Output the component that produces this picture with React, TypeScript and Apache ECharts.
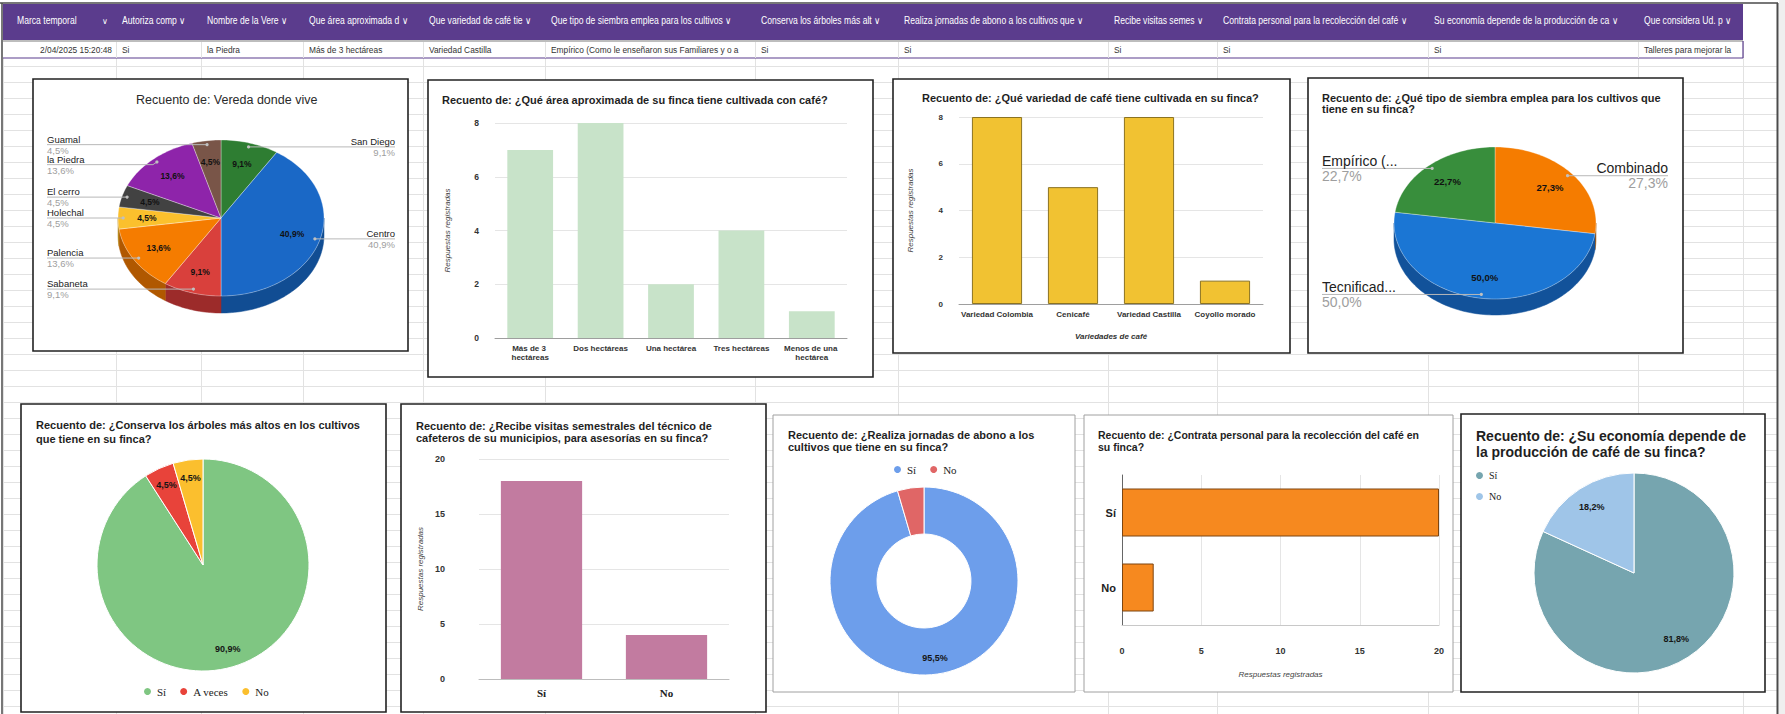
import React, { useEffect, useRef } from 'react';
import * as echarts from 'echarts';

// ---------- spreadsheet header ----------
const columnEdges = [3, 116, 201, 303, 423, 545, 755, 898, 1108, 1217, 1428, 1638, 1743];
const headerLabels = [
  'Marca temporal',
  'Autoriza comp',
  'Nombre de la Vere',
  'Que área aproximada d',
  'Que variedad de café tie',
  'Que tipo de siembra emplea para los cultivos',
  'Conserva los árboles más alt',
  'Realiza jornadas de abono a los cultivos que',
  'Recibe visitas semes',
  'Contrata personal para la recolección del café',
  'Su economía depende de la producción de ca',
  'Que considera Ud. p',
];
const firstRowValues = [
  '2/04/2025 15:20:48',
  'Si',
  'la Piedra',
  'Más de 3 hectáreas',
  'Variedad Castilla',
  'Empírico (Como le enseñaron sus Familiares y o a',
  'Si',
  'Si',
  'Si',
  'Si',
  'Si',
  'Talleres para mejorar la',
];

// ---------- chart data ----------
const veredaNames = ['San Diego', 'Centro', 'Sabaneta', 'Palencia', 'Holechal', 'El cerro', 'la Piedra', 'Guamal'];
const veredaCounts = [2, 9, 2, 3, 1, 1, 3, 1];
const veredaTop = ['#2e7d32', '#1a68c6', '#d9403c', '#f57c00', '#fbc02d', '#424242', '#8e24aa', '#795548'];
const veredaSide = ['#1f5a23', '#114d93', '#9c2b2a', '#b05800', '#b8891e', '#2a2a2a', '#641a7a', '#553b32'];

const areaCats = ['Más de 3 hectáreas', 'Dos hectáreas', 'Una hectárea', 'Tres hectáreas', 'Menos de una hectárea'];
const areaCounts = [7, 8, 2, 4, 1];

const variedadCats = ['Variedad Colombia', 'Cenicafé', 'Variedad Castilla', 'Coyollo morado'];
const variedadCounts = [8, 5, 8, 1];

const siembraNames = ['Combinado', 'Tecnificad...', 'Empírico (...'];
const siembraCounts = [6, 11, 5];
const siembraTop = ['#f57c00', '#1b76d4', '#388e3c'];
const siembraSide = ['#b25a00', '#12529a', '#275f2a'];

const conservaNames = ['Sí', 'A veces', 'No'];
const conservaCounts = [20, 1, 1];
const conservaColors = ['#7fc682', '#e8433a', '#fbbf2e'];

const visitasNames = ['Sí', 'No'];
const visitasCounts = [18, 4];

const abonoNames = ['Sí', 'No'];
const abonoCounts = [21, 1];
const abonoColors = ['#6d9eeb', '#e06666'];

const contrataNames = ['Sí', 'No'];
const contrataCounts = [20, 2];

const economiaNames = ['Sí', 'No'];
const economiaCounts = [18, 4];
const economiaColors = ['#76a5af', '#9fc5e8'];

const FONT = 'Liberation Sans';
const SERIF = 'Liberation Serif';

function sum(a: number[]) {
  return a.reduce((s, v) => s + v, 0);
}
function fmtPct(v: number, total: number) {
  return (v / total * 100).toFixed(1).replace('.', ',') + '%';
}

type P3 = {
  cx: number; cy: number; rx: number; ry: number; depth: number;
  leftX: number; rightX: number; nameSize: number; innerSize: number;
};

function arcPts(c: P3, a0: number, a1: number, dy: number) {
  const pts: number[][] = [];
  const n = Math.max(2, Math.ceil((a1 - a0) / 1.5) + 1);
  for (let k = 0; k < n; k++) {
    const a = (a0 + (a1 - a0) * k / (n - 1)) * Math.PI / 180;
    pts.push([c.cx + c.rx * Math.sin(a), c.cy - c.ry * Math.cos(a) + dy]);
  }
  return pts;
}

function pie3D(name: string, names: string[], values: number[], tops: string[], sides: string[], c: P3): any {
  const total = sum(values);
  // slice geometry and outside-label placement (labels pushed apart if they collide)
  let acc = 0;
  const geo = values.map((v) => {
    const a0 = acc / total * 360;
    acc += v;
    const a1 = acc / total * 360;
    const mid = (a0 + a1) / 2 * Math.PI / 180;
    const s = Math.sin(mid);
    const co = Math.cos(mid);
    return {
      a0, a1, s, co,
      dx: c.cx + 0.95 * c.rx * s,
      dy: c.cy - 0.95 * c.ry * co,
      left: s < 0,
      ly: 0,
    };
  });
  const blockH = 2 * c.nameSize + 1;
  [true, false].forEach((side) => {
    const idx = geo.map((_, i) => i).filter((i) => geo[i].left === side).sort((a, b) => geo[a].dy - geo[b].dy);
    let prev = -1e9;
    idx.forEach((i) => {
      const y = Math.max(geo[i].dy, prev + blockH);
      geo[i].ly = y;
      prev = y;
    });
  });
  return {
    type: 'custom',
    name,
    coordinateSystem: 'none',
    silent: true,
    z: 3,
    data: values.map((v, i) => ({ name: names[i], value: v })),
    renderItem: (params: any, api: any) => {
      const i = params.dataIndex;
      const v = api.value(0);
      const g = geo[i];
      const children: any[] = [];
      const b0 = Math.max(g.a0, 90);
      const b1 = Math.min(g.a1, 270);
      if (b1 > b0) {
        const top = arcPts(c, b0, b1, 0);
        const bot = arcPts(c, b0, b1, c.depth).reverse();
        children.push({
          type: 'polygon', z2: 1,
          shape: { points: top.concat(bot) },
          style: { fill: sides[i], stroke: sides[i], lineWidth: 0.5 },
        });
      }
      children.push({
        type: 'polygon', z2: 2,
        shape: { points: [[c.cx, c.cy]].concat(arcPts(c, g.a0, g.a1, 0)) },
        style: { fill: tops[i], stroke: 'rgba(255,255,255,0.55)', lineWidth: 0.6 },
      });
      const pct = fmtPct(v, total);
      children.push({
        type: 'text', z2: 6,
        style: {
          text: pct, x: c.cx + 0.72 * c.rx * g.s, y: c.cy - 0.72 * c.ry * g.co,
          align: 'center', verticalAlign: 'middle', fontSize: c.innerSize,
          fontWeight: 'bold', fill: '#111', fontFamily: FONT,
        },
      });
      const lx = g.left ? c.leftX : c.rightX;
      const pts = Math.abs(g.ly - g.dy) < 0.5
        ? [[g.dx, g.dy], [lx, g.ly]]
        : [[g.dx, g.dy], [g.dx + (g.left ? -4 : 4), g.ly], [lx, g.ly]];
      children.push({
        type: 'polyline', z2: 5,
        shape: { points: pts },
        style: { stroke: '#b8b8b8', lineWidth: 1, fill: 'none' },
      });
      children.push({ type: 'circle', z2: 6, shape: { cx: g.dx, cy: g.dy, r: 1.6 }, style: { fill: '#c0c0c0' } });
      children.push({
        type: 'text', z2: 6,
        style: {
          text: names[i], x: lx, y: g.ly - 0.5, align: g.left ? 'left' : 'right', verticalAlign: 'bottom',
          fontSize: c.nameSize, fill: '#222', fontFamily: FONT,
        },
      });
      children.push({
        type: 'text', z2: 6,
        style: {
          text: pct, x: lx, y: g.ly + 0.5, align: g.left ? 'left' : 'right', verticalAlign: 'top',
          fontSize: c.nameSize, fill: '#9e9e9e', fontFamily: FONT,
        },
      });
      return { type: 'group', children };
    },
  };
}

function pie2D(name: string, names: string[], values: number[], colors: string[], center: number[], radius: number[], labelRadius: number[], hideLabel: boolean[]): any[] {
  const total = sum(values);
  return [
    {
      type: 'pie', name, center, radius, startAngle: 90, clockwise: true, silent: true,
      avoidLabelOverlap: false, label: { show: false }, labelLine: { show: false },
      itemStyle: { borderColor: '#ffffff', borderWidth: 1 },
      data: names.map((n, i) => ({ name: n, value: values[i], itemStyle: { color: colors[i] } })),
      z: 3,
    },
    {
      type: 'pie', name: name + '-labels', center, radius: labelRadius, startAngle: 90, clockwise: true,
      silent: true, avoidLabelOverlap: false, labelLine: { show: false },
      itemStyle: { color: 'rgba(0,0,0,0)', borderWidth: 0 },
      label: {
        show: true, position: 'inside', fontSize: 9, fontWeight: 'bold', color: '#151515', fontFamily: FONT,
        formatter: (p: any) => fmtPct(p.value, total),
      },
      data: names.map((n, i) => ({ name: n, value: values[i], label: { show: !hideLabel[i] } })),
      z: 4,
    },
  ];
}

function buildGraphic() {
  const els: any[] = [];
  const Z = -10;
  els.push({ type: 'rect', z: Z, shape: { x: 0, y: 0, width: 1785, height: 714 }, style: { fill: '#ffffff' } });
  for (let y = 66; y < 714; y += 16) {
    els.push({ type: 'line', z: Z, shape: { x1: 3, y1: y + 0.5, x2: 1777, y2: y + 0.5 }, style: { stroke: '#e2e2e2', lineWidth: 1 } });
  }
  columnEdges.forEach((x) => {
    els.push({ type: 'line', z: Z, shape: { x1: x + 0.5, y1: 41, x2: x + 0.5, y2: 714 }, style: { stroke: '#e2e2e2', lineWidth: 1 } });
  });
  // header band
  els.push({ type: 'rect', z: Z, shape: { x: 3, y: 4, width: 1740, height: 36 }, style: { fill: '#5b3c8d' } });
  els.push({ type: 'rect', z: Z, shape: { x: 3, y: 41, width: 1740, height: 17 }, style: { fill: '#ffffff' } });
  els.push({ type: 'line', z: Z, shape: { x1: 3, y1: 41, x2: 1743, y2: 41 }, style: { stroke: '#bdbdbd', lineWidth: 2 } });
  els.push({ type: 'line', z: Z, shape: { x1: 3, y1: 58, x2: 1743, y2: 58 }, style: { stroke: '#5b3c8d', lineWidth: 1.2 } });
  els.push({ type: 'line', z: Z, shape: { x1: 1743, y1: 41, x2: 1743, y2: 58 }, style: { stroke: '#5b3c8d', lineWidth: 1.2 } });
  for (let i = 1; i < columnEdges.length - 1; i++) {
    els.push({ type: 'line', z: Z, shape: { x1: columnEdges[i] + 0.5, y1: 42, x2: columnEdges[i] + 0.5, y2: 58 }, style: { stroke: '#e2e2e2', lineWidth: 1 } });
  }
  const sx = 0.86;
  headerLabels.forEach((lab, i) => {
    const x0 = columnEdges[i];
    const x1 = columnEdges[i + 1];
    if (i === 0) {
      els.push({ type: 'text', z: Z, x: x0 + 14, y: 21, scaleX: sx, style: { text: lab, fill: '#ffffff', fontSize: 10, fontFamily: FONT, verticalAlign: 'middle', align: 'left' } });
      els.push({ type: 'text', z: Z, x: 102, y: 21, style: { text: '∨', fill: '#ffffff', fontSize: 8, fontFamily: 'DejaVu Sans', verticalAlign: 'middle', align: 'left' } });
    } else {
      els.push({
        type: 'text', z: Z, x: x0 + 6, y: 21, scaleX: sx,
        style: { text: lab + ' ∨', fill: '#ffffff', fontSize: 10, fontFamily: FONT, verticalAlign: 'middle', align: 'left', width: (x1 - x0 - 8) / sx, overflow: 'truncate', ellipsis: '' },
      });
    }
  });
  const rx = 0.88;
  firstRowValues.forEach((val, i) => {
    const x0 = columnEdges[i];
    const x1 = columnEdges[i + 1];
    if (i === 0) {
      els.push({ type: 'text', z: Z, x: x1 - 4, y: 50, scaleX: rx, style: { text: val, fill: '#333', fontSize: 9.5, fontFamily: FONT, verticalAlign: 'middle', align: 'right' } });
    } else {
      els.push({
        type: 'text', z: Z, x: x0 + 6, y: 50, scaleX: rx,
        style: { text: val, fill: '#333', fontSize: 9.5, fontFamily: FONT, verticalAlign: 'middle', align: 'left', width: (x1 - x0 - 7) / rx, overflow: 'truncate', ellipsis: '' },
      });
    }
  });
  // window frame
  els.push({ type: 'rect', z: Z, shape: { x: 1779, y: 0, width: 6, height: 714 }, style: { fill: '#efefef' } });
  els.push({ type: 'line', z: Z, shape: { x1: 0, y1: 3, x2: 1778, y2: 3 }, style: { stroke: '#4a4a4a', lineWidth: 1.5 } });
  els.push({ type: 'line', z: Z, shape: { x1: 2, y1: 3, x2: 2, y2: 714 }, style: { stroke: '#4a4a4a', lineWidth: 1.5 } });
  els.push({ type: 'line', z: Z, shape: { x1: 1777.5, y1: 3, x2: 1777.5, y2: 714 }, style: { stroke: '#4a4a4a', lineWidth: 2 } });
  // chart boxes
  const frames: any[] = [
    [33, 79, 375, 272, '#222', 1.6],
    [428, 80, 445, 297, '#222', 1.6],
    [893, 79, 397, 274, '#222', 1.6],
    [1308, 78, 375, 275, '#222', 1.6],
    [21, 404, 365, 308, '#222', 1.6],
    [401, 404, 365, 308, '#222', 1.6],
    [773, 415, 302, 277, '#a0a0a0', 1],
    [1084, 415, 369, 277, '#a0a0a0', 1],
    [1461, 414, 304, 278, '#222', 1.6],
  ];
  frames.forEach((f) => {
    els.push({ type: 'rect', z: Z, shape: { x: f[0], y: f[1], width: f[2], height: f[3] }, style: { fill: '#ffffff', stroke: f[4], lineWidth: f[5] } });
  });
  return els;
}

function T(text: string, left: number, top: number, extra: any = {}) {
  return {
    text, left, top, padding: 0,
    textStyle: { fontSize: 11, fontWeight: 'bold', color: '#1f1f1f', fontFamily: FONT, lineHeight: 12, ...extra },
  };
}

const axisNameStyle = { fontSize: 8, fontStyle: 'italic', color: '#444', fontFamily: FONT };
const tickStyle = { fontSize: 8.5, fontWeight: 'bold', color: '#333', fontFamily: FONT };
const splitStyle = { lineStyle: { color: '#e5e5e5', width: 1 } };

function buildOption(): any {
  return {
    animation: false,
    backgroundColor: '#ffffff',
    textStyle: { fontFamily: FONT },
    graphic: { elements: buildGraphic() },
    title: [
      T('Recuento de: Vereda donde vive', 136, 93, { fontWeight: 'normal', fontSize: 12.5, color: '#2a2a2a', lineHeight: 14 }),
      T('Recuento de: ¿Qué área aproximada de su finca tiene cultivada con café?', 442, 94),
      T('Recuento de: ¿Qué variedad de café tiene cultivada en su finca?', 922, 92),
      T('Recuento de: ¿Qué tipo de siembra emplea para los cultivos que\ntiene en su finca?', 1322, 92, { lineHeight: 11 }),
      T('Recuento de: ¿Conserva los árboles más altos en los cultivos\nque tiene en su finca?', 36, 418, { lineHeight: 14 }),
      T('Recuento de: ¿Recibe visitas semestrales del técnico de\ncafeteros de su municipios, para asesorías en su finca?', 416, 420),
      T('Recuento de: ¿Realiza jornadas de abono a los\ncultivos que tiene en su finca?', 788, 429),
      T('Recuento de: ¿Contrata personal para la recolección del café en\nsu finca?', 1098, 429, { fontSize: 10.5 }),
      T('Recuento de: ¿Su economía depende de\nla producción de café de su finca?', 1476, 428, { fontSize: 14, lineHeight: 16 }),
    ],
    legend: [
      {
        left: 142, top: 686, padding: 0, icon: 'circle', itemWidth: 9, itemHeight: 9, itemGap: 12, selectedMode: false,
        textStyle: { fontFamily: SERIF, fontSize: 11, color: '#222' },
        data: conservaNames.map((n, i) => ({ name: n, itemStyle: { color: conservaColors[i] } })),
      },
      {
        left: 892, top: 464, padding: 0, icon: 'circle', itemWidth: 9, itemHeight: 9, itemGap: 12, selectedMode: false,
        textStyle: { fontFamily: SERIF, fontSize: 11, color: '#222' },
        data: abonoNames.map((n, i) => ({ name: n, itemStyle: { color: abonoColors[i] } })),
      },
      {
        left: 1474, top: 470, padding: 0, orient: 'vertical', icon: 'circle', itemWidth: 9, itemHeight: 9, itemGap: 10, selectedMode: false,
        textStyle: { fontFamily: SERIF, fontSize: 10, color: '#222' },
        data: economiaNames.map((n, i) => ({ name: n, itemStyle: { color: economiaColors[i] } })),
      },
    ],
    grid: [
      { left: 495, top: 123, width: 352, height: 215, outerBoundsMode: 'none' },
      { left: 959, top: 117, width: 304, height: 187, outerBoundsMode: 'none' },
      { left: 479, top: 459, width: 250, height: 220, outerBoundsMode: 'none' },
      { left: 1122, top: 475, width: 317, height: 150, outerBoundsMode: 'none' },
    ],
    xAxis: [
      {
        gridIndex: 0, type: 'category', data: areaCats, axisTick: { show: false },
        axisLine: { lineStyle: { color: '#9e9e9e' } },
        axisLabel: { ...tickStyle, fontSize: 8, interval: 0, width: 66, overflow: 'break', lineHeight: 9, margin: 6 },
      },
      {
        gridIndex: 1, type: 'category', data: variedadCats, axisTick: { show: false },
        axisLine: { lineStyle: { color: '#9e9e9e' } },
        axisLabel: { ...tickStyle, fontSize: 8, interval: 0, margin: 6 },
        name: 'Variedades de café', nameLocation: 'middle', nameGap: 28,
        nameTextStyle: { ...axisNameStyle, fontWeight: 'bold', color: '#333' },
      },
      {
        gridIndex: 2, type: 'category', data: visitasNames, axisTick: { show: false },
        axisLine: { lineStyle: { color: '#bdbdbd' } },
        axisLabel: { fontFamily: SERIF, fontSize: 11, fontWeight: 'bold', color: '#222', margin: 8 },
      },
      {
        gridIndex: 3, type: 'value', min: 0, max: 20, interval: 5,
        splitLine: splitStyle, axisTick: { show: false },
        axisLine: { show: true, lineStyle: { color: '#c8c8c8' } },
        axisLabel: { ...tickStyle, fontSize: 9, margin: 21 },
        name: 'Respuestas registradas', nameLocation: 'middle', nameGap: 45, nameTextStyle: axisNameStyle,
      },
    ],
    yAxis: [
      {
        gridIndex: 0, type: 'value', min: 0, max: 8, interval: 2, splitLine: splitStyle,
        axisLabel: { ...tickStyle, margin: 16 },
        name: 'Respuestas registradas', nameLocation: 'middle', nameGap: 44, nameTextStyle: axisNameStyle,
      },
      {
        gridIndex: 1, type: 'value', min: 0, max: 8, interval: 2, splitLine: splitStyle,
        axisLabel: { ...tickStyle, fontSize: 8, margin: 16 },
        name: 'Respuestas registradas', nameLocation: 'middle', nameGap: 45, nameTextStyle: axisNameStyle,
      },
      {
        gridIndex: 2, type: 'value', min: 0, max: 20, interval: 5, splitLine: splitStyle,
        axisLabel: { ...tickStyle, fontSize: 9, margin: 34 },
        name: 'Respuestas registradas', nameLocation: 'middle', nameGap: 55, nameTextStyle: axisNameStyle,
      },
      {
        gridIndex: 3, type: 'category', data: contrataNames, inverse: true, axisTick: { show: false },
        axisLine: { lineStyle: { color: '#666' } },
        axisLabel: { fontSize: 11, fontWeight: 'bold', color: '#222', margin: 6, fontFamily: FONT },
      },
    ],
    series: [
      pie3D('vereda', veredaNames, veredaCounts, veredaTop, veredaSide,
        { cx: 221, cy: 218, rx: 103, ry: 78, depth: 17, leftX: 47, rightX: 395, nameSize: 9.5, innerSize: 8.5 }),
      pie3D('siembra', siembraNames, siembraCounts, siembraTop, siembraSide,
        { cx: 1495, cy: 223, rx: 101, ry: 76, depth: 16, leftX: 1322, rightX: 1668, nameSize: 14, innerSize: 9.5 }),
      {
        type: 'bar', name: 'area', xAxisIndex: 0, yAxisIndex: 0, data: areaCounts, barWidth: '65%',
        itemStyle: { color: '#c8e3c9' }, silent: true,
      },
      {
        type: 'bar', name: 'variedad', xAxisIndex: 1, yAxisIndex: 1, data: variedadCounts, barWidth: '66%',
        itemStyle: { color: '#f1c232', borderColor: '#8b7322', borderWidth: 1 }, silent: true,
      },
      {
        type: 'bar', name: 'visitas', xAxisIndex: 2, yAxisIndex: 2, data: visitasCounts, barWidth: '65%',
        itemStyle: { color: '#c27ba0' }, silent: true,
      },
      {
        type: 'bar', name: 'contrata', xAxisIndex: 3, yAxisIndex: 3, data: contrataCounts, barWidth: '64%',
        itemStyle: { color: '#f6891f', borderColor: '#7d4510', borderWidth: 1 }, silent: true,
      },
      ...pie2D('conserva', conservaNames, conservaCounts, conservaColors, [203, 565], [0, 106], [64, 106], [false, false, false]),
      ...pie2D('abono', abonoNames, abonoCounts, abonoColors, [924, 581], [47, 94], [56, 94], [false, true]),
      ...pie2D('economia', economiaNames, economiaCounts, economiaColors, [1634, 573], [0, 100], [50, 100], [false, false]),
    ],
  };
}

export default function App() {
  const ref = useRef<HTMLDivElement>(null);
  useEffect(() => {
    if (!ref.current) return;
    const chart = echarts.init(ref.current, null, { renderer: 'svg' });
    chart.setOption(buildOption());
    return () => chart.dispose();
  }, []);
  return <div ref={ref} style={{ position: 'absolute', left: 0, top: 0, width: 1785, height: 714 }} />;
}
